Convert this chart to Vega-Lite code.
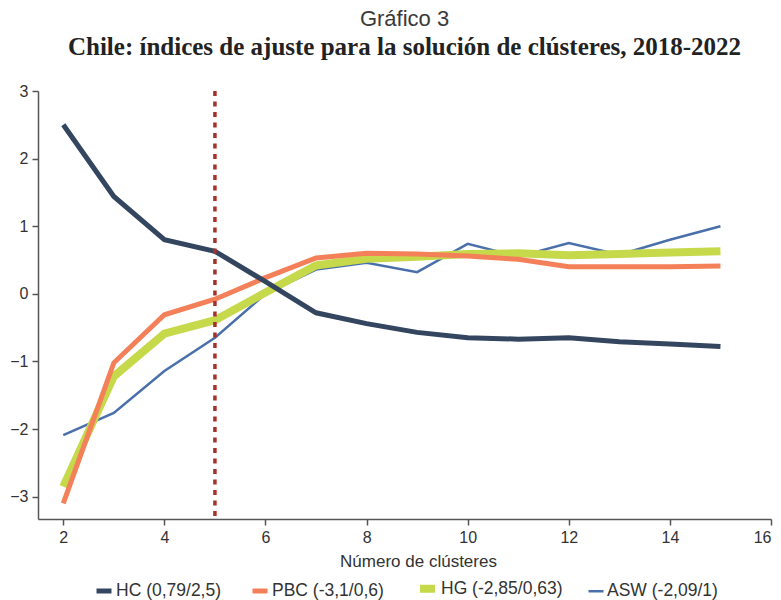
{
  "$schema": "https://vega.github.io/schema/vega-lite/v6.json",
  "autosize": {"type": "none"},
  "width": 733,
  "height": 428,
  "padding": {"left": 38, "top": 91, "right": 10, "bottom": 81},
  "background": "white",
  "title": {
    "text": "Gráfico 3",
    "subtitle": "Chile: índices de ajuste para la solución de clústeres, 2018-2022",
    "anchor": "middle",
    "frame": "group",
    "font": "Liberation Sans",
    "fontSize": 22,
    "fontWeight": "normal",
    "color": "#3a3a3a",
    "subtitleFont": "Liberation Serif",
    "subtitleFontSize": 25,
    "subtitleFontWeight": "bold",
    "subtitleColor": "#222222",
    "subtitlePadding": 4,
    "offset": 22
  },
  "config": {
    "view": {"stroke": null},
    "font": "Liberation Sans",
    "axis": {
      "grid": false,
      "domainColor": "#555555",
      "domainWidth": 1.5,
      "tickColor": "#555555",
      "tickWidth": 1.5,
      "tickSize": 6,
      "labelColor": "#333333",
      "labelFont": "Liberation Sans",
      "labelFontSize": 16,
      "titleFont": "Liberation Sans",
      "titleFontSize": 17,
      "titleFontWeight": "normal",
      "titleColor": "#333333"
    },
    "legend": {
      "labelFont": "Liberation Sans",
      "labelFontSize": 17.5,
      "labelColor": "#333333"
    }
  },
  "datasets": {
    "series": [
      {"k": 2, "s": "ASW (-2,09/1)", "v": -2.09},
      {"k": 3, "s": "ASW (-2,09/1)", "v": -1.76},
      {"k": 4, "s": "ASW (-2,09/1)", "v": -1.14},
      {"k": 5, "s": "ASW (-2,09/1)", "v": -0.65},
      {"k": 6, "s": "ASW (-2,09/1)", "v": 0.0},
      {"k": 7, "s": "ASW (-2,09/1)", "v": 0.36},
      {"k": 8, "s": "ASW (-2,09/1)", "v": 0.46},
      {"k": 9, "s": "ASW (-2,09/1)", "v": 0.32},
      {"k": 10, "s": "ASW (-2,09/1)", "v": 0.74},
      {"k": 11, "s": "ASW (-2,09/1)", "v": 0.55},
      {"k": 12, "s": "ASW (-2,09/1)", "v": 0.75},
      {"k": 13, "s": "ASW (-2,09/1)", "v": 0.58},
      {"k": 14, "s": "ASW (-2,09/1)", "v": 0.80},
      {"k": 15, "s": "ASW (-2,09/1)", "v": 1.0},
      {"k": 2, "s": "HG (-2,85/0,63)", "v": -2.85},
      {"k": 3, "s": "HG (-2,85/0,63)", "v": -1.22},
      {"k": 4, "s": "HG (-2,85/0,63)", "v": -0.59},
      {"k": 5, "s": "HG (-2,85/0,63)", "v": -0.39},
      {"k": 6, "s": "HG (-2,85/0,63)", "v": 0.02},
      {"k": 7, "s": "HG (-2,85/0,63)", "v": 0.42},
      {"k": 8, "s": "HG (-2,85/0,63)", "v": 0.52},
      {"k": 9, "s": "HG (-2,85/0,63)", "v": 0.55},
      {"k": 10, "s": "HG (-2,85/0,63)", "v": 0.59},
      {"k": 11, "s": "HG (-2,85/0,63)", "v": 0.60},
      {"k": 12, "s": "HG (-2,85/0,63)", "v": 0.57},
      {"k": 13, "s": "HG (-2,85/0,63)", "v": 0.59},
      {"k": 14, "s": "HG (-2,85/0,63)", "v": 0.61},
      {"k": 15, "s": "HG (-2,85/0,63)", "v": 0.63},
      {"k": 2, "s": "PBC (-3,1/0,6)", "v": -3.1},
      {"k": 3, "s": "PBC (-3,1/0,6)", "v": -1.02},
      {"k": 4, "s": "PBC (-3,1/0,6)", "v": -0.31},
      {"k": 5, "s": "PBC (-3,1/0,6)", "v": -0.08},
      {"k": 6, "s": "PBC (-3,1/0,6)", "v": 0.24},
      {"k": 7, "s": "PBC (-3,1/0,6)", "v": 0.53},
      {"k": 8, "s": "PBC (-3,1/0,6)", "v": 0.60},
      {"k": 9, "s": "PBC (-3,1/0,6)", "v": 0.59},
      {"k": 10, "s": "PBC (-3,1/0,6)", "v": 0.56},
      {"k": 11, "s": "PBC (-3,1/0,6)", "v": 0.51},
      {"k": 12, "s": "PBC (-3,1/0,6)", "v": 0.40},
      {"k": 13, "s": "PBC (-3,1/0,6)", "v": 0.40},
      {"k": 14, "s": "PBC (-3,1/0,6)", "v": 0.40},
      {"k": 15, "s": "PBC (-3,1/0,6)", "v": 0.41},
      {"k": 2, "s": "HC (0,79/2,5)", "v": 2.5},
      {"k": 3, "s": "HC (0,79/2,5)", "v": 1.44},
      {"k": 4, "s": "HC (0,79/2,5)", "v": 0.80},
      {"k": 5, "s": "HC (0,79/2,5)", "v": 0.63},
      {"k": 6, "s": "HC (0,79/2,5)", "v": 0.18},
      {"k": 7, "s": "HC (0,79/2,5)", "v": -0.28},
      {"k": 8, "s": "HC (0,79/2,5)", "v": -0.44},
      {"k": 9, "s": "HC (0,79/2,5)", "v": -0.57},
      {"k": 10, "s": "HC (0,79/2,5)", "v": -0.65},
      {"k": 11, "s": "HC (0,79/2,5)", "v": -0.67},
      {"k": 12, "s": "HC (0,79/2,5)", "v": -0.65},
      {"k": 13, "s": "HC (0,79/2,5)", "v": -0.71},
      {"k": 14, "s": "HC (0,79/2,5)", "v": -0.74},
      {"k": 15, "s": "HC (0,79/2,5)", "v": -0.78}
    ],
    "ref": [{"k": 5}]
  },
  "layer": [
    {
      "data": {"name": "series"},
      "mark": {"type": "line", "strokeCap": "butt", "strokeJoin": "miter"},
      "encoding": {
        "x": {
          "field": "k", "type": "quantitative",
          "scale": {"domain": [1.5, 16], "nice": false, "zero": false},
          "axis": {"values": [2, 4, 6, 8, 10, 12, 14, 16], "title": "Número de clústeres", "titlePadding": 8, "labelPadding": 4, "titleX": 380}
        },
        "y": {
          "field": "v", "type": "quantitative",
          "scale": {"domain": [-3.33, 3], "nice": false, "zero": false},
          "axis": {"values": [-3, -2, -1, 0, 1, 2, 3], "title": null, "labelPadding": 4}
        },
        "color": {
          "field": "s", "type": "nominal",
          "scale": {
            "domain": ["HC (0,79/2,5)", "PBC (-3,1/0,6)", "HG (-2,85/0,63)", "ASW (-2,09/1)"],
            "range": ["#34465f", "#f4805a", "#c6d94b", "#4a70ab"]
          },
          "legend": {
            "title": null,
            "orient": "none",
            "legendX": 56,
            "legendY": 486,
            "direction": "horizontal",
            "symbolType": "stroke",
            "symbolSize": 225,
            "columnPadding": 20,
            "labelOffset": 2
          }
        },
        "strokeWidth": {
          "field": "s", "type": "nominal",
          "scale": {
            "type": "ordinal",
            "domain": ["HC (0,79/2,5)", "PBC (-3,1/0,6)", "HG (-2,85/0,63)", "ASW (-2,09/1)"],
            "range": [5, 5, 8, 2.5]
          },
          "legend": null
        },
        "order": {"field": "k", "type": "quantitative"}
      }
    },
    {
      "data": {"name": "ref"},
      "mark": {"type": "rule", "color": "#a8302a", "strokeWidth": 3.5, "strokeDash": [5, 5.5]},
      "encoding": {
        "x": {"field": "k", "type": "quantitative"}
      }
    }
  ]
}
